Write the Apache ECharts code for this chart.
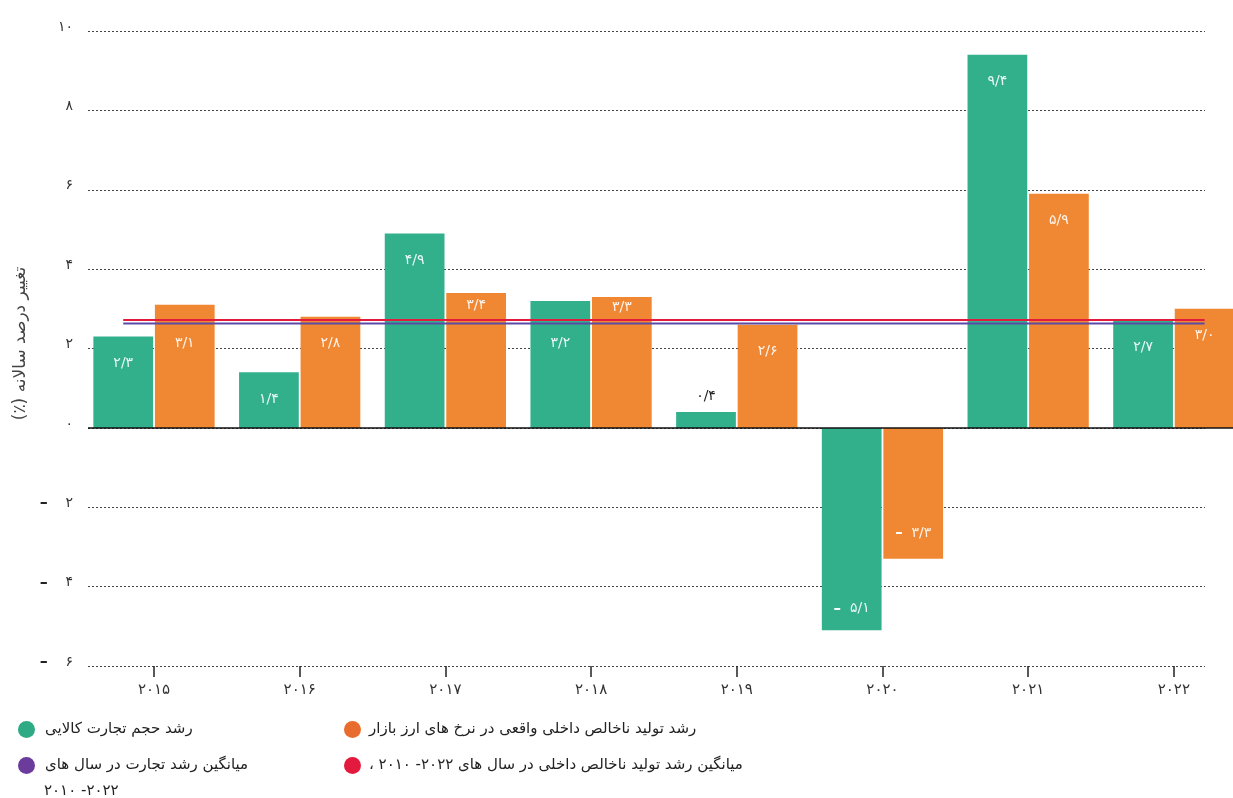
<!DOCTYPE html>
<html>
<head>
<meta charset="utf-8">
<script src="https://cdn.jsdelivr.net/npm/echarts@6/dist/echarts.min.js"></script>
<style>
html,body{margin:0;padding:0;background:#fff;}
#chart{width:1233px;height:798px;}
</style>
</head>
<body>
<div id="chart"></div>
<script>
// ---- data ----
const categories = ['2015', '2016', '2017', '2018', '2019', '2020', '2021', '2022'];
const tradeGrowth = [2.3, 1.4, 4.9, 3.2, 0.4, -5.1, 9.4, 2.7];
const gdpGrowth = [3.1, 2.8, 3.4, 3.3, 2.6, -3.3, 5.9, 3.0];
const tradeAverage = 2.63;
const gdpAverage = 2.72;
const yTicks = [-6, -4, -2, 0, 2, 4, 6, 8, 10];

const tradeName = 'رشد حجم تجارت کالایی';
const gdpName = 'رشد تولید ناخالص داخلی واقعی در نرخ های ارز بازار';
const tradeAvgName = 'میانگین رشد تجارت در سال های';
const tradeAvgYears = '۲۰۱۰ -۲۰۲۲';
const gdpAvgName = '، ۲۰۱۰ -۲۰۲۲ میانگین رشد تولید ناخالص داخلی در سال های';
const yAxisName = 'تغییر درصد سالانه (٪)\u200F';

// ---- helpers ----
const FA = '۰۱۲۳۴۵۶۷۸۹';
const toFa = s => String(s).replace(/\d/g, d => FA[+d]);
const fmtBar = v => (v < 0 ? '{m|–}  ' : '') + toFa(Math.abs(v).toFixed(1).replace('.', '/'));
const FONT = 'DejaVu Sans';

const Y_MIN = -6, Y_MAX = 10;
const X_MIN = -0.453, X_MAX = 7.406;   // bar grid extent in category units
const BAR_W = 0.41;                     // bar width, fraction of one category
const BAR_GAP = 0.03;                   // gap between paired bars, fraction of bar width
const halfOffset = BAR_W / 2 + (BAR_W * BAR_GAP) / 2;
const lastIndex = categories.length - 1;
const catIdx = categories.map((c, i) => i);

const labelBase = {
  show: true,
  fontFamily: FONT,
  fontSize: 14,
  color: 'rgba(255,255,255,0.9)',
  position: 'insideTop',
  distance: 20,
  formatter: p => fmtBar(p.value[1]),
  rich: { m: { fontFamily: FONT, fontSize: 15, fontWeight: 'bold', color: '#ffffff' } }
};

function barData(values, negDistance, labelDist) {
  return values.map((v, i) => {
    const item = { value: [i, v] };
    if (v > 0 && v < 1) item.label = { position: 'top', distance: 9, color: '#222' };
    else if (v < 0) item.label = { position: 'insideBottom', distance: negDistance };
    else if (labelDist) item.label = { distance: labelDist[i] };
    return item;
  });
}

const chart = echarts.init(document.getElementById('chart'), null, { renderer: 'canvas' });
chart.setOption({
  animation: false,
  backgroundColor: '#ffffff',
  textStyle: { fontFamily: FONT },
  grid: [
    { left: 88, right: 28, top: 31, bottom: 132 },
    { left: 88, right: 0, top: 31, bottom: 132 }
  ],
  xAxis: [
    { gridIndex: 0, type: 'value', min: 0, max: 1, show: false },
    {
      gridIndex: 1, type: 'value', min: X_MIN, max: X_MAX,
      axisLine: { show: false, onZero: false },
      splitLine: { show: false },
      axisTick: { show: true, length: 11, customValues: catIdx, lineStyle: { color: '#222', width: 1.5 } },
      axisLabel: {
        fontFamily: FONT, fontSize: 15, color: '#333', margin: 17,
        customValues: catIdx,
        formatter: v => toFa(categories[Math.round(v)])
      }
    }
  ],
  yAxis: [
    {
      gridIndex: 0, type: 'value', min: Y_MIN, max: Y_MAX, interval: 2,
      axisLine: { show: false }, axisTick: { show: false },
      splitLine: { show: true, lineStyle: { color: '#444', type: [2, 2], width: 1 } },
      axisLabel: {
        fontFamily: FONT, fontSize: 14, color: '#333', margin: 15, padding: [0, 0, 8, 0],
        customValues: yTicks,
        formatter: v => v < 0 ? '{m|–}    ' + toFa(-v) : toFa(v),
        rich: { m: { fontFamily: FONT, fontSize: 16, fontWeight: 'bold', color: '#222' } }
      },
      name: yAxisName, nameLocation: 'middle', nameGap: 57, nameRotate: 90,
      nameTextStyle: { fontFamily: FONT, fontSize: 17, color: '#444', padding: [0, 0, 0, 10] }
    },
    { gridIndex: 1, type: 'value', min: Y_MIN, max: Y_MAX, interval: 2, show: false, splitLine: { show: false } }
  ],
  legend: [
    {
      left: 13, top: 716, orient: 'vertical', itemGap: 19, icon: 'circle',
      itemWidth: 17, itemHeight: 17,
      textStyle: { fontFamily: FONT, fontSize: 15, color: '#222', padding: [3, 0, 0, 5] },
      data: [
        { name: tradeName, itemStyle: { color: '#2eaa84' } },
        { name: tradeAvgName, itemStyle: { color: '#6b3c9c' } }
      ]
    },
    {
      left: 339, top: 716, orient: 'vertical', itemGap: 19, icon: 'circle',
      itemWidth: 17, itemHeight: 17,
      textStyle: { fontFamily: FONT, fontSize: 15, color: '#222', padding: [3, 0, 0, 3] },
      data: [
        { name: gdpName, itemStyle: { color: '#e86c2e' } },
        { name: gdpAvgName, itemStyle: { color: '#e3193d' } }
      ]
    }
  ],
  graphic: [
    {
      type: 'text', left: 44, top: 784,
      style: { text: tradeAvgYears, fontFamily: FONT, fontSize: 15, fill: '#222' }
    }
  ],
  series: [
    {
      name: tradeName, type: 'bar', xAxisIndex: 1, yAxisIndex: 1,
      data: barData(tradeGrowth, 14),
      barWidth: (BAR_W * 100) + '%', barGap: (BAR_GAP * 100) + '%',
      itemStyle: { color: '#32b08c' },
      label: labelBase
    },
    {
      name: gdpName, type: 'bar', xAxisIndex: 1, yAxisIndex: 1,
      data: barData(gdpGrowth, 18),
      barWidth: (BAR_W * 100) + '%', barGap: (BAR_GAP * 100) + '%',
      itemStyle: { color: '#f08833' },
      label: labelBase
    },
    {
      name: 'zero', type: 'line', xAxisIndex: 1, yAxisIndex: 1, silent: true, symbol: 'none',
      lineStyle: { color: '#111', width: 1.5 },
      data: [[X_MIN, 0], [X_MAX, 0]],
      z: 4
    },
    {
      name: tradeAvgName, type: 'line', xAxisIndex: 1, yAxisIndex: 1, symbol: 'none', silent: true,
      lineStyle: { color: '#5b4aa6', width: 2 },
      data: [[-halfOffset, tradeAverage], [lastIndex + halfOffset, tradeAverage]],
      z: 5
    },
    {
      name: gdpAvgName, type: 'line', xAxisIndex: 1, yAxisIndex: 1, symbol: 'none', silent: true,
      lineStyle: { color: '#e3193d', width: 2 },
      data: [[-halfOffset, gdpAverage], [lastIndex + halfOffset, gdpAverage]],
      z: 6
    }
  ]
});

// move bar labels off the average lines (positions computed through the library's scale)
function labelDistances(values) {
  const yPix = v => chart.convertToPixel({ xAxisIndex: 1, yAxisIndex: 1 }, [0, v])[1];
  const lineTop = yPix(gdpAverage) - 2, lineBottom = yPix(tradeAverage) + 2;
  const half = 8;
  return values.map(v => {
    const top = yPix(v);
    let center = top + 27;
    if (center + half > lineTop && center - half < lineBottom) {
      center = (lineTop - top >= 20) ? (top + lineTop) / 2 : lineBottom + 18;
    }
    return center - top - 7;
  });
}
chart.setOption({
  series: [
    { data: barData(tradeGrowth, 14, labelDistances(tradeGrowth)) },
    { data: barData(gdpGrowth, 18, labelDistances(gdpGrowth)) }
  ]
});
</script>
</body>
</html>
